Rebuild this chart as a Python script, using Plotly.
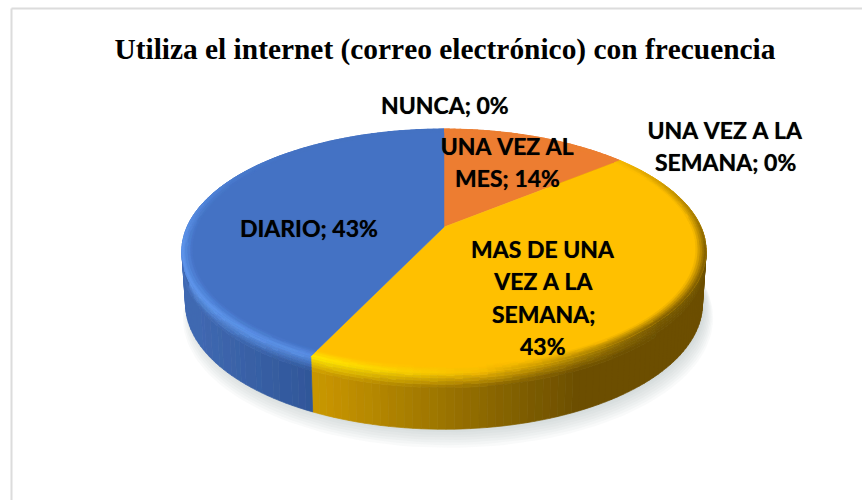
"""3D style pie chart: frequency of internet (e-mail) use"""

import numpy as np
import plotly.graph_objects as go

TITLE = "Utiliza el internet (correo electrónico) con frecuencia"

# data, clockwise from the top of the pie
categories = ["UNA VEZ AL MES", "UNA VEZ A LA SEMANA", "MAS DE UNA VEZ A LA SEMANA", "DIARIO", "NUNCA"]
values = [14, 0, 43, 43, 0]

face_colors = {
    "UNA VEZ AL MES": "#ED7D31",
    "UNA VEZ A LA SEMANA": "#A5A5A5",
    "MAS DE UNA VEZ A LA SEMANA": "#FFC000",
    "DIARIO": "#4472C4",
    "NUNCA": "#5B9BD5",
}

# label layout: wrapped lines and centre position of the first line
label_lines = {
    "UNA VEZ AL MES": (["UNA VEZ AL", "MES; {}%"], 507, 146),
    "UNA VEZ A LA SEMANA": (["UNA VEZ A LA", "SEMANA; {}%"], 725, 130),
    "MAS DE UNA VEZ A LA SEMANA": (["MAS DE UNA", "VEZ A LA", "SEMANA;", "{}%"], 543, 249),
    "DIARIO": (["DIARIO; {}%"], 309, 228),
    "NUNCA": (["NUNCA; {}%"], 445, 105),
}
LINE_HEIGHT = 32.3

# pie projection
CX, CY = 444.0, 227.0
RX, RY = 257.0, 117.3
PERSPECTIVE = 0.197
DEPTH = 52.0


def project(theta, r=1.0, h=0.0):
    """Pie polar coordinates to pixels: theta clockwise from the top, h down the wall"""
    px = r * np.sin(theta)
    py = r * np.cos(theta)
    w = 1 + PERSPECTIVE * py
    x = CX + RX * (1 - 0.014 * h) * px / w
    y = CY - RY * py / w + h * DEPTH * (1 - 0.08 * np.cos(theta))
    return x, y


def hex_rgb(c):
    return np.array([int(c[i:i + 2], 16) for i in (1, 3, 5)], dtype=float)


def mix(a, b, t):
    t = float(np.clip(t, 0, 1))
    return a + (b - a) * t


def quant(rgb):
    r, g, b = (int(np.clip(round(v / 3) * 3, 0, 255)) for v in rgb)
    return f"rgb({r},{g},{b})"


def wall_color(name, x):
    if name == "MAS DE UNA VEZ A LA SEMANA":
        return mix(hex_rgb("#C89600"), hex_rgb("#6B4E00"), (x - 320) / 260)
    if name == "DIARIO":
        return mix(hex_rgb("#4069B2"), hex_rgb("#2F5597"), (x - 190) / 130)
    return hex_rgb(face_colors[name]) * 0.6


def rim_color(name, x):
    if name == "MAS DE UNA VEZ A LA SEMANA":
        if x < 480:
            return mix(hex_rgb("#FFE800"), hex_rgb("#F5BC00"), (x - 320) / 160)
        return mix(hex_rgb("#F5BC00"), hex_rgb("#7A5A00"), (x - 480) / 180)
    if name == "DIARIO":
        return mix(hex_rgb("#5F98EE"), hex_rgb("#5A90E6"), (x - 190) / 130)
    return hex_rgb(face_colors[name]) * 1.05


total = sum(values)
edges = np.concatenate([[0], np.cumsum(values)]) / total * 2 * np.pi

fig = go.Figure()

# soft shadow under the pie
shadow_t = np.linspace(0, 2 * np.pi, 181)
for i in range(8):
    sx, sy = project(shadow_t, 1.028 - i * 0.005, 1.24 - i * 0.03)
    fig.add_trace(go.Scatter(
        x=sx + 4, y=sy, mode="lines", fill="toself",
        fillcolor="rgba(150,155,170,0.055)", line=dict(width=0),
        hoverinfo="skip", showlegend=False,
    ))

# walls and bevel are small quads, grouped by colour
wall_quads = {}
bevel_quads = {}


def add_quad(store, color, t0, t1, a, b):
    """a and b are (r, h) at the two radial ends of the quad"""
    x0, y0 = project(t0, *a)
    x1, y1 = project(t1, *a)
    x2, y2 = project(t1, *b)
    x3, y3 = project(t0, *b)
    xs, ys = store.setdefault(color, ([], []))
    xs += [x0, x1, x2, x3, x0, None]
    ys += [y0, y1, y2, y3, y0, None]


WALL_STEPS = [0.0, 0.05, 0.10, 0.15, 0.20, 0.26, 1.0]
BEVEL_STEPS = [0.962, 0.970, 0.978, 0.986, 0.993, 1.0]

for name, start, end in zip(categories, edges[:-1], edges[1:]):
    if end <= start:
        continue
    n = max(2, int((end - start) / np.radians(1.5)))
    ts = np.linspace(start, end, n + 1)
    for t0, t1 in zip(ts[:-1], ts[1:]):
        tm = (t0 + t1) / 2
        xm, _ = project(tm)
        strength = float(np.clip((0.75 - np.cos(tm)) / 0.9, 0, 1))
        wall = wall_color(name, xm)
        rim = mix(hex_rgb(face_colors[name]), rim_color(name, xm), strength)
        for h0, h1 in zip(WALL_STEPS[:-1], WALL_STEPS[1:]):
            f = (h0 + h1) / 2 / 0.26
            add_quad(wall_quads, quant(mix(rim, wall, f)), t0, t1, (1.0, h0), (1.0, h1))
        for r0, r1 in zip(BEVEL_STEPS[:-1], BEVEL_STEPS[1:]):
            f = ((r0 + r1) / 2 - BEVEL_STEPS[0]) / (1 - BEVEL_STEPS[0])
            add_quad(bevel_quads, quant(mix(hex_rgb(face_colors[name]), rim, f)), t0, t1, (r0, 0.0), (r1, 0.0))

for color, (xs, ys) in wall_quads.items():
    fig.add_trace(go.Scatter(
        x=xs, y=ys, mode="lines", fill="toself", fillcolor=color,
        line=dict(color=color, width=0.7), hoverinfo="skip", showlegend=False,
    ))

# top faces of the slices
for name, start, end in zip(categories, edges[:-1], edges[1:]):
    if end <= start:
        continue
    ts = np.linspace(start, end, max(3, int((end - start) / np.radians(1)) + 1))
    x, y = project(ts)
    fig.add_trace(go.Scatter(
        x=np.concatenate([[CX], x, [CX]]), y=np.concatenate([[CY], y, [CY]]),
        mode="lines", fill="toself", fillcolor=face_colors[name],
        line=dict(color=face_colors[name], width=0.5),
        name=name, hoverinfo="name", showlegend=False,
    ))

for color, (xs, ys) in bevel_quads.items():
    fig.add_trace(go.Scatter(
        x=xs, y=ys, mode="lines", fill="toself", fillcolor=color,
        line=dict(color=color, width=0.7), hoverinfo="skip", showlegend=False,
    ))

# data labels, one annotation per line so the leading can follow the original
for name, value in zip(categories, values):
    lines, lx, ly = label_lines[name]
    for i, line in enumerate(lines):
        fig.add_annotation(
            x=lx, y=ly + i * LINE_HEIGHT, text=line.format(value), showarrow=False,
            xanchor="center", yanchor="middle",
            font=dict(family="Lato", size=23, color="#000000", weight="bold",
                      shadow="0px 0px 0.7px rgba(0,0,0,0.7)"),
        )

fig.add_annotation(
    x=445, y=49, text=f"<b>{TITLE}</b>", showarrow=False, xanchor="center", yanchor="middle",
    font=dict(family="Liberation Serif", size=29.4, color="#000000"),
)

# chart frame, only the top and left sides are in view
fig.add_shape(type="line", x0=11.5, x1=11.5, y0=8.5, y1=500, line=dict(color="#DCDCDC", width=2))
fig.add_shape(type="line", x0=11.5, x1=862, y0=8.5, y1=8.5, line=dict(color="#DCDCDC", width=2))

fig.update_layout(
    width=862, height=500,
    margin=dict(l=0, r=0, t=0, b=0),
    paper_bgcolor="#FFFFFF", plot_bgcolor="#FFFFFF",
    showlegend=False,
    xaxis=dict(range=[0, 862], visible=False, fixedrange=True),
    yaxis=dict(range=[500, 0], visible=False, fixedrange=True),
)

# the browser's default body margin would push the figure 8px down and right,
# and Lato's tight kerning makes "VEZ A LA" much narrower than in the original
post_script = """
document.body.style.margin = '0';
document.querySelectorAll('.annotation-text').forEach(function (t) {
    t.style.fontKerning = 'none';
});
"""
fig.write_html("out.html", config={"displayModeBar": False}, post_script=post_script)
